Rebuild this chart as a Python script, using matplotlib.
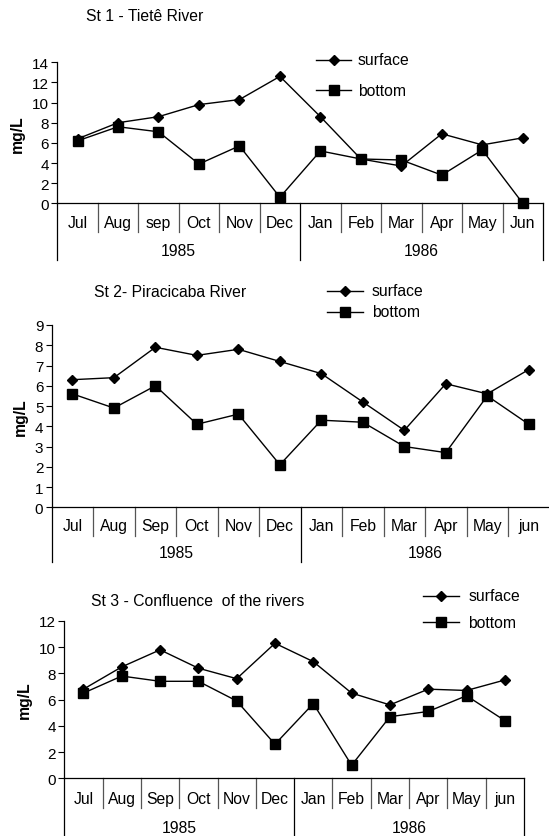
import numpy as np
import matplotlib
matplotlib.use("Agg")
import matplotlib.pyplot as plt
from matplotlib.lines import Line2D

plt.rcParams['font.family'] = ['Liberation Sans', 'DejaVu Sans']

W, H = 549, 837
FS = 11.3

years = ["1985", "1986"]

# Station 1 - Tietê River
st1_months = ["Jul", "Aug", "sep", "Oct", "Nov", "Dec", "Jan", "Feb", "Mar", "Apr", "May", "Jun"]
st1_surface = [6.4, 8.0, 8.6, 9.8, 10.3, 12.6, 8.6, 4.4, 3.7, 6.9, 5.8, 6.5]
st1_bottom = [6.2, 7.6, 7.1, 3.9, 5.7, 0.6, 5.2, 4.4, 4.3, 2.8, 5.3, 0.0]

# Station 2 - Piracicaba River
st2_months = ["Jul", "Aug", "Sep", "Oct", "Nov", "Dec", "Jan", "Feb", "Mar", "Apr", "May", "jun"]
st2_surface = [6.3, 6.4, 7.9, 7.5, 7.8, 7.2, 6.6, 5.2, 3.8, 6.1, 5.6, 6.8]
st2_bottom = [5.6, 4.9, 6.0, 4.1, 4.6, 2.1, 4.3, 4.2, 3.0, 2.7, 5.5, 4.1]

# Station 3 - Confluence of the rivers
st3_months = ["Jul", "Aug", "Sep", "Oct", "Nov", "Dec", "Jan", "Feb", "Mar", "Apr", "May", "jun"]
st3_surface = [6.8, 8.5, 9.8, 8.4, 7.6, 10.3, 8.9, 6.5, 5.6, 6.8, 6.7, 7.5]
st3_bottom = [6.5, 7.8, 7.4, 7.4, 5.9, 2.6, 5.7, 1.0, 4.7, 5.1, 6.3, 4.4]

fig = plt.figure(figsize=(W / 100, H / 100), dpi=100)

DIAMOND_MS = 5.2
SQUARE_MS = 7.8


def fx(x):
    return x / W


def fy(y):
    return 1 - y / H


def panel(box, title, title_xy, months, surf, bot, ymax, ystep,
          rows, key_pos, key_gap):
    left, right, top, bottom = box
    month_lab, month_drop, year_lab, year_drop = rows
    ax = fig.add_axes([fx(left), fy(bottom), fx(right - left), (bottom - top) / H])
    h_px = bottom - top
    x = np.arange(len(months))
    ax.plot(x, surf, color='black', lw=1.0, marker='D', ms=DIAMOND_MS,
            mfc='black', mec='black', clip_on=False, zorder=3)
    ax.plot(x, bot, color='black', lw=1.0, marker='s', ms=SQUARE_MS,
            mfc='black', mec='black', clip_on=False, zorder=3)
    ax.set_xlim(-0.5, len(months) - 0.5)
    ax.set_ylim(0, ymax)
    ax.set_yticks(np.arange(0, ymax + 0.01, ystep))
    ax.tick_params(axis='y', direction='out', length=4, width=0.8, labelsize=FS - 0.3, pad=2)
    ax.set_xticks([])
    for s in ['top', 'right']:
        ax.spines[s].set_visible(False)
    ax.spines['left'].set_linewidth(0.9)
    ax.spines['bottom'].set_linewidth(0.9)
    ax.set_ylabel('mg/L', fontsize=FS, fontweight='bold', labelpad=5)

    tr = ax.get_xaxis_transform()
    n = len(months)
    # category separators under the axis
    for b in np.arange(-0.5, n, 1.0):
        full = b in (-0.5, n / 2 - 0.5, n - 0.5)
        drop = year_drop if full else month_drop
        col = 'black' if full else '#555555'
        ax.add_line(Line2D([b, b], [0, -drop / h_px], transform=tr,
                           color=col, lw=0.9, clip_on=False))
    for i, m in enumerate(months):
        ax.text(i, -month_lab / h_px, m, transform=tr,
                ha='center', va='center', fontsize=FS)
    half = n / 2
    for j, yr in enumerate(years):
        ax.text(half * j + half / 2 - 0.5, -year_lab / h_px,
                yr, transform=tr, ha='center', va='center', fontsize=FS)

    fig.text(fx(title_xy[0]), fy(title_xy[1]), title, ha='left', va='center', fontsize=FS)

    # key
    kx0, kx1, ktx, ky = key_pos
    for k, (mk, ms, lab) in enumerate([('D', DIAMOND_MS, 'surface'), ('s', SQUARE_MS, 'bottom')]):
        yy = ky + k * key_gap
        fig.add_artist(Line2D([fx(kx0), fx(kx1)], [fy(yy), fy(yy)], color='black', lw=1.0,
                              transform=fig.transFigure))
        fig.add_artist(Line2D([fx((kx0 + kx1) / 2)], [fy(yy)], marker=mk, ms=ms,
                              color='black', transform=fig.transFigure))
        fig.text(fx(ktx), fy(yy), lab, ha='left', va='center', fontsize=FS)
    return ax


panel((57.3, 543, 63.3, 204.3), "St 1 - Tietê River", (86, 16.7),
      st1_months, st1_surface, st1_bottom, 14, 2,
      (19, 29, 47.4, 57), (316, 351, 357.7, 60.7), 30.3)

panel((51.7, 549.5, 326, 508.3), "St 2- Piracicaba River", (94.5, 292.7),
      st2_months, st2_surface, st2_bottom, 9, 1,
      (18.4, 28.4, 45, 55), (327, 363, 372, 292), 20.7)

panel((64.3, 524, 622, 779.3), "St 3 - Confluence  of the rivers", (91.3, 601.7),
      st3_months, st3_surface, st3_bottom, 12, 2,
      (20.7, 30, 49, 58), (422.7, 459, 468.3, 596.7), 26.6)

fig.savefig("out.png", dpi=100)
